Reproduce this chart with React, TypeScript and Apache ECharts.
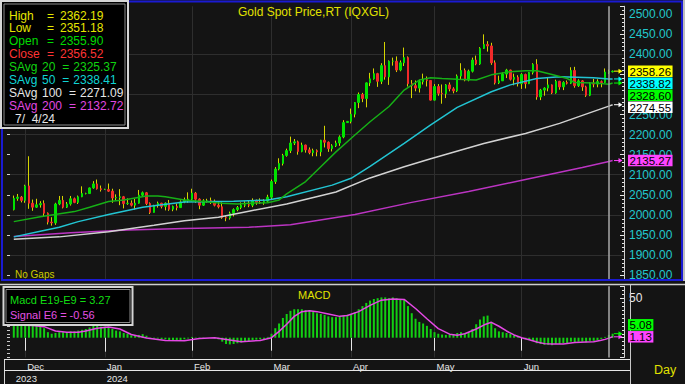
import React, { useEffect, useRef } from 'react';
import * as echarts from 'echarts';

const FONT = '"Liberation Sans", Arial, Helvetica, sans-serif';

// ---------- categories (trading days, Nov 28 2023 .. Jul 5 2024) ----------
function weekdays(from: string, to: string): string[] {
  const out: string[] = [];
  const d = new Date(from + 'T00:00:00Z');
  const end = new Date(to + 'T00:00:00Z');
  while (d <= end) {
    const wd = d.getUTCDay();
    if (wd !== 0 && wd !== 6) out.push(d.toISOString().slice(0, 10));
    d.setUTCDate(d.getUTCDate() + 1);
  }
  return out;
}
const dates = weekdays('2023-11-28', '2024-07-05');

// ---------- tick labels ----------
const monthStarts = ['2023-12-01', '2024-01-01', '2024-02-01', '2024-03-01', '2024-04-01', '2024-05-01', '2024-06-03'];
const monthLabels = ['Dec', 'Jan', 'Feb', 'Mar', 'Apr', 'May', 'Jun'];
const yearStarts = ['2023-11-28', '2024-01-01'];
const yearLabels = ['2023', '2024'];
const priceGridValues = [1900, 2000, 2100, 2200, 2300, 2400];
const cursorDate = '2024-07-04';

// ---------- price bars: [open, high, low, close] ----------
const priceBars: number[][] = [
  // Nov
  [2013, 2048, 2011, 2041], [2041, 2052, 2035, 2044], [2044, 2047, 2031, 2036],
  // Dec
  [2036, 2075, 2030, 2072], [2072, 2146, 2015, 2029], [2029, 2038, 2010, 2019], [2019, 2040, 2017, 2025], [2025, 2034, 2018, 2028],
  [2028, 2036, 1995, 2004], [2004, 2006, 1976, 1982], [1982, 1994, 1973, 1980], [1980, 2030, 1975, 2027], [2027, 2047, 2024, 2036],
  [2036, 2047, 2016, 2019], [2019, 2032, 2017, 2027], [2027, 2047, 2023, 2040], [2040, 2043, 2029, 2031], [2031, 2048, 2027, 2045],
  [2045, 2071, 2044, 2053], [2053, 2055, 2051, 2053], [2053, 2068, 2052, 2067], [2067, 2084, 2065, 2077], [2077, 2088, 2063, 2065],
  [2065, 2073, 2058, 2063],
  // Jan
  [2063, 2065, 2062, 2063], [2063, 2078, 2057, 2059], [2059, 2065, 2030, 2042], [2042, 2051, 2036, 2043], [2043, 2064, 2024, 2045],
  [2045, 2047, 2016, 2028], [2028, 2041, 2025, 2029], [2029, 2036, 2021, 2024], [2024, 2040, 2013, 2029], [2029, 2062, 2028, 2049],
  [2049, 2058, 2046, 2055], [2055, 2057, 2024, 2028], [2028, 2031, 2002, 2006], [2006, 2025, 2006, 2023], [2023, 2033, 2018, 2029],
  [2029, 2030, 2016, 2021], [2021, 2031, 2011, 2029], [2029, 2037, 2010, 2014], [2014, 2023, 2009, 2021], [2021, 2028, 2011, 2018],
  [2018, 2036, 2017, 2032], [2032, 2043, 2029, 2037], [2037, 2056, 2030, 2039],
  // Feb
  [2039, 2065, 2033, 2054], [2054, 2057, 2030, 2039], [2039, 2041, 2014, 2024], [2024, 2039, 2022, 2035], [2035, 2040, 2030, 2035],
  [2035, 2043, 2027, 2034], [2034, 2038, 2021, 2024], [2024, 2032, 2016, 2020], [2020, 2031, 1990, 1993], [1993, 1997, 1984, 1992],
  [1992, 2008, 1988, 2004], [2004, 2016, 1996, 2013], [2013, 2022, 2009, 2018], [2018, 2031, 2014, 2024], [2024, 2034, 2019, 2025],
  [2025, 2035, 2019, 2024], [2024, 2041, 2019, 2035], [2035, 2038, 2025, 2031], [2031, 2041, 2027, 2030], [2030, 2039, 2025, 2034],
  [2034, 2050, 2031, 2044],
  // Mar
  [2044, 2088, 2039, 2083], [2083, 2119, 2077, 2114], [2114, 2141, 2111, 2128], [2128, 2152, 2123, 2148], [2148, 2165, 2145, 2160],
  [2160, 2195, 2154, 2179], [2179, 2189, 2174, 2182], [2182, 2185, 2150, 2158], [2158, 2180, 2156, 2174], [2174, 2175, 2155, 2162],
  [2162, 2168, 2151, 2155], [2155, 2165, 2146, 2160], [2160, 2163, 2146, 2157], [2157, 2187, 2146, 2186], [2186, 2222, 2168, 2181],
  [2181, 2183, 2157, 2165], [2165, 2176, 2158, 2172], [2172, 2185, 2169, 2179], [2179, 2198, 2172, 2194], [2194, 2236, 2191, 2230],
  [2230, 2234, 2229, 2233],
  // Apr
  [2233, 2265, 2228, 2251], [2251, 2281, 2243, 2280], [2280, 2305, 2266, 2300], [2300, 2304, 2281, 2290], [2290, 2330, 2268, 2329],
  [2329, 2354, 2321, 2339], [2339, 2365, 2337, 2352], [2352, 2354, 2319, 2333], [2333, 2378, 2326, 2372], [2372, 2431, 2337, 2344],
  [2344, 2385, 2324, 2383], [2383, 2392, 2372, 2383], [2383, 2395, 2356, 2361], [2361, 2385, 2358, 2379], [2379, 2417, 2371, 2392],
  [2392, 2395, 2320, 2327], [2327, 2336, 2291, 2322], [2322, 2335, 2308, 2316], [2316, 2337, 2305, 2332], [2332, 2352, 2325, 2337],
  [2337, 2345, 2320, 2335], [2335, 2336, 2285, 2286],
  // May
  [2286, 2326, 2285, 2320], [2320, 2326, 2297, 2303], [2303, 2325, 2277, 2302], [2302, 2326, 2291, 2324], [2324, 2330, 2308, 2314],
  [2314, 2318, 2303, 2309], [2309, 2350, 2306, 2346], [2346, 2378, 2337, 2360], [2360, 2365, 2333, 2336], [2336, 2362, 2333, 2358],
  [2358, 2392, 2355, 2386], [2386, 2397, 2373, 2376], [2376, 2418, 2374, 2415], [2415, 2450, 2414, 2425], [2425, 2433, 2407, 2421],
  [2421, 2429, 2374, 2379], [2379, 2385, 2325, 2329], [2329, 2347, 2326, 2334], [2334, 2355, 2334, 2351], [2351, 2364, 2341, 2361],
  [2361, 2362, 2335, 2338], [2338, 2352, 2323, 2343], [2343, 2348, 2320, 2327],
  // Jun
  [2327, 2353, 2314, 2350], [2350, 2352, 2315, 2327], [2327, 2356, 2326, 2355], [2355, 2378, 2350, 2375], [2375, 2388, 2287, 2294],
  [2294, 2314, 2286, 2311], [2311, 2318, 2297, 2316], [2316, 2342, 2308, 2324], [2324, 2325, 2301, 2304], [2304, 2337, 2302, 2333],
  [2333, 2334, 2312, 2319], [2319, 2333, 2311, 2330], [2330, 2335, 2325, 2328], [2328, 2368, 2326, 2360], [2360, 2369, 2317, 2322],
  [2322, 2338, 2319, 2334], [2334, 2336, 2309, 2319], [2319, 2322, 2294, 2298], [2298, 2331, 2296, 2327], [2327, 2339, 2318, 2326],
  // Jul
  [2326, 2338, 2318, 2332], [2332, 2335, 2318, 2330], [2330, 2365, 2329, 2356], [2355.90, 2362.19, 2351.18, 2356.52], [2356.52, 2359.8, 2355.2, 2358.26],
];

// ---------- moving averages: [bar index, value] ----------
const sma20Pts = [[0, 1983], [7, 1995], [16, 2008], [20, 2019], [25, 2033], [29, 2037], [35, 2047], [38, 2047], [40, 2045], [45, 2037],
  [49, 2034], [55, 2029], [59, 2027], [62, 2029], [67, 2030], [70, 2037], [72, 2052], [77, 2083], [81, 2120], [85, 2157], [90, 2199],
  [94, 2232], [99, 2270], [103, 2311], [107, 2336], [110, 2342], [113, 2340], [117, 2338], [122, 2336], [126, 2349], [131, 2357],
  [135, 2359], [138, 2359], [142, 2350], [146, 2340], [148, 2330], [153, 2329], [157, 2325.37], [158, 2328.60]];
const sma50Pts = [[0, 1945], [7, 1959], [12, 1969], [17, 1983], [25, 2001], [34, 2019], [38, 2024], [45, 2032], [58, 2034], [67, 2037],
  [72, 2045], [84, 2074], [89, 2091], [94, 2121], [103, 2178], [110, 2224], [117, 2268], [126, 2307], [131, 2324], [138, 2340],
  [144, 2344], [153, 2342], [157, 2338.41], [158, 2338.82]];
const sma100Pts = [[0, 1939], [12, 1945], [25, 1958], [37, 1974], [45, 1985], [54, 1994], [62, 2009], [72, 2027], [85, 2057], [94, 2092],
  [103, 2120], [110, 2140], [124, 2178], [135, 2203], [144, 2228], [157, 2271.09], [158, 2274.55]];
const sma200Pts = [[0, 1946], [15, 1955], [30, 1962], [45, 1966], [62, 1969], [73, 1975], [90, 2001], [105, 2031], [120, 2058],
  [135, 2088], [150, 2118], [157, 2132.72], [158, 2135.27]];

// ---------- MACD (E19-E9) per bar ----------
const macdValues = [
  20, 21, 21, 23, 21, 19, 17, 15, 12,
  7, 5, 6, 7, 7, 7, 8, 8, 9, 10,
  11, 13, 15, 15, 14, 14, 13, 11, 9, 8,
  6, 5, 3, 2.5, 3.5, 4.5, 2.5, -0.5, -1, -1,
  -2, -2, -3.5, -3.5, -4, -3, -2, -1, 1, 0.5,
  -1, -0.5, 0, 0, -1, -2, -5, -8, -8.5, -8,
  -7, -6, -5, -4.5, -3, -2.5, -2, -1.5, 1, 5,
  12, 18, 25, 30, 34, 36, 36, 36, 35, 34,
  33, 31, 30, 29, 27, 26, 26, 27, 28, 29,
  30, 32, 36, 40, 44, 47, 49, 50, 51, 51,
  50, 51, 50, 49, 48, 40, 31, 24, 20, 18,
  15, 11, 7, 5, 4, 3.5, 4, 4, 6, 7,
  6, 7, 11, 17, 23, 27, 28, 20, 12, 8,
  7, 6, 5, 3, 1, 0, -2, -3, -4, -7,
  -8, -9, -9, -9.5, -8, -8, -7, -7, -5, -6,
  -5, -5, -6, -4, -4, -3, -1.5, 1, 3.27, 5.08,
];
// Signal (E6): [bar index, value]
const signalPts = [[0, 16], [5, 15.5], [8, 14], [11, 8.5], [14, 7], [17, 7], [19, 8.5], [22, 12], [25, 13.5], [28, 11], [31, 4],
  [35, -0.5], [40, -3.5], [45, -4], [49, -1], [53, 0], [57, -3], [60, -5], [65, -3.5], [68, 0], [70, 8], [72, 17], [74, 27],
  [76, 33], [78, 34], [80, 33], [83, 30], [86, 27], [88, 28], [91, 33], [94, 41], [97, 47.5], [100, 49], [103, 48.5], [106, 37],
  [109, 24], [112, 11.5], [115, 4.5], [117, 3], [119, 5], [122, 11], [124, 16], [126, 19.5], [128, 14.5], [130, 8.5], [132, 3.5],
  [134, 0], [136, -2.5], [138, -5.5], [140, -7.5], [142, -8], [145, -8], [148, -6], [151, -5.5], [153, -5.2], [155, -3.3],
  [156, -2.1], [157, -0.56], [158, 1.13]];

// ---------- helpers ----------
const categories = ['pad-0', ...dates, 'pad-1', 'pad-2', 'pad-3'];
const lastIdx = dates.length - 1;
const cursorIdx = dates.indexOf(cursorDate);
const ptAt = (pts: number[][], i: number) => (pts.find((p) => p[0] === i) || [i, NaN])[1];

const C = {
  bg: '#141414', grid: '#2e2e2e', up: '#00e200', down: '#f22a2a', wick: '#d4d400',
  s20: '#16b016', s50: '#22c4d2', s100: '#d2d2d2', s200: '#bb34c2',
  macd: '#12d012', signal: '#e448e4', axisText: '#22c8cc', yellow: '#e2e200',
};
const MARK_STEP = 12;
const MARK_H = 11.5;

const priceLabelFormatter = (hidden: number[]) => (v: number) =>
  v % 50 === 0 && hidden.indexOf(v) < 0 ? v.toFixed(2) : '';

function buildOption(): any {
  const isMonth = (_i: number, v: string) => monthStarts.indexOf(v) >= 0;
  const lineSeries = (name: string, pts: number[][], color: string) => ({
    type: 'line', name, xAxisIndex: 0, yAxisIndex: 0, silent: true, z: 3,
    data: pts.map(([i, v]) => [dates[i], v]),
    symbol: 'none', lineStyle: { color, width: 1.5 }, itemStyle: { color },
  });
  const cursorLine = {
    silent: true, symbol: ['none', 'none'], label: { show: false },
    lineStyle: { color: '#a9a9a9', width: 1.5, type: 'solid' },
    data: [{ xAxis: cursorDate }],
  };
  const mainY = { gridIndex: 0, min: 1840, max: 2520 };
  const macdY = { gridIndex: 1, min: -25, max: 65 };
  return {
    animation: false,
    backgroundColor: C.bg,
    grid: [
      { left: 10, width: 614, top: 6.28, height: 272.7, outerBoundsMode: 'none' },
      { left: 10, width: 614, top: 286.35, height: 71.1, outerBoundsMode: 'none' },
    ],
    xAxis: [
      {
        type: 'category', gridIndex: 0, data: categories, boundaryGap: false,
        axisLine: { show: false }, axisTick: { show: false }, axisLabel: { show: false },
        splitLine: { show: true, interval: isMonth, lineStyle: { color: C.grid, width: 1 } },
      },
      {
        type: 'category', gridIndex: 1, data: categories, boundaryGap: false, position: 'bottom',
        axisLine: { show: false },
        axisTick: { show: true, interval: isMonth, length: 13, inside: false, lineStyle: { color: '#e6e6e6' } },
        axisLabel: {
          show: true, interval: isMonth, color: '#e6e6e6', fontSize: 9.5, fontFamily: FONT, align: 'left',
          margin: 4, padding: [0, 0, 0, 2],
          formatter: (v: string) => { const k = monthStarts.indexOf(v); return k >= 0 ? monthLabels[k] : ''; },
        },
        splitLine: { show: true, interval: isMonth, lineStyle: { color: C.grid, width: 1 } },
      },
      {
        type: 'category', gridIndex: 1, data: categories, boundaryGap: false, position: 'bottom', offset: 13,
        axisLine: { show: false },
        axisTick: { show: true, interval: (_i: number, v: string) => v === yearStarts[1], length: 14, lineStyle: { color: '#e6e6e6' } },
        axisLabel: {
          show: true, interval: (_i: number, v: string) => yearStarts.indexOf(v) >= 0, color: '#e6e6e6',
          fontSize: 9.5, fontFamily: FONT, align: 'left', margin: 3, padding: [0, 0, 0, 2],
          formatter: (v: string) => { const k = yearStarts.indexOf(v); return k >= 0 ? yearLabels[k] : ''; },
        },
        splitLine: { show: false },
      },
    ],
    yAxis: [
      {
        type: 'value', ...mainY, position: 'right', splitNumber: 14, minInterval: 50, maxInterval: 50,
        axisLine: { show: true, lineStyle: { color: '#d0d0d0' } },
        axisTick: { show: true, inside: true, length: 4, lineStyle: { color: '#e8e8e8' } },
        axisLabel: { color: C.axisText, fontSize: 12, fontFamily: FONT, margin: 5, formatter: priceLabelFormatter([]) },
        splitLine: { show: false },
      },
      {
        type: 'value', ...mainY, position: 'right', splitNumber: 68, minInterval: 10, maxInterval: 10,
        axisLine: { show: false }, axisLabel: { show: false }, splitLine: { show: false },
        axisTick: { show: true, inside: true, length: 2, lineStyle: { color: '#e8e8e8' } },
      },
      {
        type: 'value', ...mainY, position: 'left', splitNumber: 14, minInterval: 50, maxInterval: 50,
        axisLine: { show: false }, axisLabel: { show: false }, splitLine: { show: false },
        axisTick: { show: true, inside: false, length: 3, lineStyle: { color: '#d0d0d0' } },
      },
      {
        type: 'value', ...macdY, position: 'right', splitNumber: 2, minInterval: 50, maxInterval: 50,
        axisLine: { show: true, lineStyle: { color: '#d0d0d0' } },
        axisTick: { show: true, inside: true, length: 4, lineStyle: { color: '#e8e8e8' } },
        axisLabel: {
          color: '#e8e8e8', fontSize: 12, fontFamily: FONT, margin: 5,
          formatter: (v: number) => (v === 50 ? '50' : ''),
        },
        splitLine: { show: false },
      },
      {
        type: 'value', ...macdY, position: 'right', splitNumber: 18, minInterval: 5, maxInterval: 5,
        axisLine: { show: false }, axisLabel: { show: false }, splitLine: { show: false },
        axisTick: { show: true, inside: true, length: 2, lineStyle: { color: '#e8e8e8' } },
      },
      {
        type: 'value', ...macdY, position: 'left', splitNumber: 18, minInterval: 5, maxInterval: 5,
        axisLine: { show: false }, axisLabel: { show: false }, splitLine: { show: false },
        axisTick: { show: true, inside: false, length: 3, lineStyle: { color: '#c8c8c8' } },
      },
    ],
    series: [
      {
        type: 'candlestick', name: 'wick', xAxisIndex: 0, yAxisIndex: 0, silent: true, barWidth: 1,
        encode: { x: 0, y: [1, 2, 3, 4] },
        data: priceBars.map((b, i) => [dates[i], b[0], b[3], b[2], b[1]]),
        itemStyle: { color: C.wick, color0: C.wick, borderColor: C.wick, borderColor0: C.wick, borderWidth: 1 },
        markLine: {
          silent: true, z: 1, symbol: ['none', 'none'], label: { show: false },
          lineStyle: { color: C.grid, width: 1, type: 'solid' },
          data: priceGridValues.map((v) => ({ yAxis: v })),
        },
      },
      {
        type: 'candlestick', name: 'body', xAxisIndex: 0, yAxisIndex: 0, silent: true, barWidth: 2,
        encode: { x: 0, y: [1, 2, 3, 4] },
        data: priceBars.map((b, i) => [dates[i], b[0], b[3], Math.min(b[0], b[3]), Math.max(b[0], b[3])]),
        itemStyle: { color: C.up, color0: C.down, borderColor: C.up, borderColor0: C.down, borderWidth: 1 },
        markLine: cursorLine,
      },
      lineSeries('SAvg 200', sma200Pts, C.s200),
      lineSeries('SAvg 100', sma100Pts, C.s100),
      lineSeries('SAvg 50', sma50Pts, C.s50),
      lineSeries('SAvg 20', sma20Pts, C.s20),
      {
        type: 'bar', name: 'MACD', xAxisIndex: 1, yAxisIndex: 3, silent: true, barWidth: 2,
        data: macdValues.map((v, i) => [dates[i], v]),
        itemStyle: { color: C.macd },
        markLine: cursorLine,
      },
      {
        type: 'line', name: 'Signal', xAxisIndex: 1, yAxisIndex: 3, silent: true, symbol: 'none',
        data: signalPts.map(([i, v]) => [dates[i], v]),
        lineStyle: { color: C.signal, width: 1.5 }, itemStyle: { color: C.signal },
      },
    ],
  };
}

function txt(x: number, y: number, text: string, fill: string, size: number, extra: any = {}) {
  return {
    type: 'text', x, y, z: 120, silent: true,
    style: { text, fill, font: `${size}px ${FONT}`, verticalAlign: 'middle', align: 'left', ...extra },
  };
}
function rect(x: number, y: number, w: number, h: number, style: any, z = 110) {
  return { type: 'rect', z, silent: true, shape: { x, y, width: w, height: h }, style };
}
function line(x1: number, y1: number, x2: number, y2: number, stroke: string, lw = 1, z = 110) {
  return { type: 'line', z, silent: true, shape: { x1, y1, x2, y2 }, style: { stroke, lineWidth: lw } };
}

function stack(ys: number[], h: number): number[] {
  const placed: number[] = [];
  return ys.map((y) => {
    const cands = [y];
    placed.forEach((p) => { cands.push(p - h, p + h); });
    const ok = cands.filter((c) => placed.every((p) => Math.abs(c - p) >= h - 0.01));
    ok.sort((a, b) => Math.abs(a - y) - Math.abs(b - y));
    const r = ok[0];
    placed.push(r);
    return r;
  });
}

function textWidth(s: string, size: number) {
  let w = 0;
  for (const ch of s) w += ch === '.' ? 0.278 : ch === '-' ? 0.333 : 0.556;
  return w * size;
}

const mainMarks = [
  { v: priceBars[lastIdx][3], bg: '#ffff00' },
  { v: ptAt(sma50Pts, lastIdx), bg: '#00ffff' },
  { v: ptAt(sma20Pts, lastIdx), bg: '#00ff00' },
  { v: ptAt(sma100Pts, lastIdx), bg: '#ffffff' },
  { v: ptAt(sma200Pts, lastIdx), bg: '#ff44ff' },
];
const macdMarks = [
  { v: ptAt(signalPts, lastIdx), bg: '#ff44ff' },
  { v: macdValues[lastIdx], bg: '#00ff00' },
];

function placeMarks(chart: any, marks: any[], yAxisIndex: number) {
  const trueY = marks.map((m) => chart.convertToPixel({ yAxisIndex }, m.v) as number);
  const ys = stack(trueY, MARK_STEP);
  return marks.map((m, k) => ({ ...m, y: ys[k], ty: trueY[k] }));
}

function buildGraphics(mainPlaced: any[], macdPlaced: any[]): any[] {
  const els: any[] = [];
  // frames
  els.push(rect(2, 1.5, 680, 278.5, { fill: 'none', stroke: '#1a1ad2', lineWidth: 2 }, 105));
  els.push(rect(683, 0, 2, 281, { fill: '#bdbdbd' }, 105));
  els.push(line(0, 284.5, 685, 284.5, '#cfcfcf', 1.5, 105));
  els.push(line(630.5, 285, 630.5, 384, '#c8c8c8', 1, 105));
  els.push(line(4.5, 359, 4.5, 384, '#d8d8d8', 1, 105));
  els.push(line(4, 359.5, 630, 359.5, '#e6e6e6', 1, 105));
  els.push(line(4, 370.5, 630, 370.5, '#e6e6e6', 1, 105));

  // title etc.
  els.push(txt(238, 12, 'Gold Spot Price,RT (IQXGL)', C.yellow, 12));
  els.push(txt(15, 274.5, 'No Gaps', '#cccc00', 10));
  els.push(txt(298, 295, 'MACD', C.yellow, 11));
  els.push(txt(654, 370, 'Day', C.yellow, 12.5));

  // main legend box
  const bar = priceBars[cursorIdx];
  els.push(rect(1, 1, 127, 127, { fill: '#000000', stroke: '#d6d6d6', lineWidth: 2 }));
  els.push(rect(4, 4, 121, 121, { fill: 'none', stroke: '#8a8a8a', lineWidth: 1 }));
  const rowY = (k: number) => 15.5 + k * 12.9;
  const hloc: [string, number, string][] = [
    ['High', bar[1], '#e6e600'], ['Low', bar[2], '#e6e600'], ['Open', bar[0], '#00dc00'], ['Close', bar[3], '#ff3434'],
  ];
  hloc.forEach(([lab, v, col], k) => {
    els.push(txt(9, rowY(k), lab, col, 12));
    els.push(txt(47, rowY(k), '=', col, 12));
    els.push(txt(60, rowY(k), v.toFixed(2), col, 12));
  });
  const savg: [string, number[][], string][] = [
    ['20', sma20Pts, '#10d410'], ['50', sma50Pts, '#10d4d4'], ['100', sma100Pts, '#e6e6e6'], ['200', sma200Pts, '#e048e0'],
  ];
  savg.forEach(([p, pts, col], j) => {
    const k = j + 4;
    const eqX = 42 + p.length * 6.67 + 7;
    els.push(txt(9, rowY(k), 'SAvg', col, 12));
    els.push(txt(42, rowY(k), p, col, 12));
    els.push(txt(eqX, rowY(k), '=', col, 12));
    els.push(txt(eqX + 11, rowY(k), ptAt(pts, cursorIdx).toFixed(2), col, 12));
  });
  const [yy, mm, dd] = cursorDate.split('-');
  els.push(txt(15, rowY(8), `${Number(mm)}/\u00a0\u00a0${Number(dd)}/${yy.slice(2)}`, '#e6e6e6', 12));

  // MACD legend box
  els.push(rect(3.5, 287, 129, 38, { fill: '#000000', stroke: '#d6d6d6', lineWidth: 2 }));
  els.push(rect(6, 289.5, 124, 33, { fill: 'none', stroke: '#8a8a8a', lineWidth: 1 }));
  els.push(txt(10, 300, `Macd E19-E9 = ${macdValues[cursorIdx].toFixed(2)}`, '#12de12', 11));
  els.push(txt(10, 314.5, `Signal E6 = ${ptAt(signalPts, cursorIdx).toFixed(2)}`, '#e450e4', 11));

  // right-edge value markers
  const FS = 11.5;
  [...mainPlaced, ...macdPlaced].forEach((m) => {
    const label = m.v.toFixed(2);
    const w = textWidth(label, FS) + 3;
    els.push(rect(628, m.y - MARK_H / 2, w, MARK_H, { fill: m.bg }, 115));
    els.push(txt(629.5, m.y + 0.5, label, '#000000', FS));
    els.push(line(614, m.ty, 619, m.ty, m.bg, 1, 116));
    els.push({
      type: 'polygon', z: 116, silent: true,
      shape: { points: [[618.5, m.ty - 2.5], [622.5, m.ty], [618.5, m.ty + 2.5]] },
      style: { fill: m.bg },
    });
  });
  return els;
}

export default function App() {
  const ref = useRef<HTMLDivElement>(null);
  useEffect(() => {
    const el = ref.current;
    if (!el) return;
    const chart = echarts.init(el, null, { renderer: 'svg' });
    chart.setOption(buildOption());
    const mainPlaced = placeMarks(chart, mainMarks, 0);
    const macdPlaced = placeMarks(chart, macdMarks, 3);
    // price labels that sit fully behind a value marker are hidden (as in the source chart)
    const hidden: number[] = [];
    for (let v = 1850; v <= 2500; v += 50) {
      const y = chart.convertToPixel({ yAxisIndex: 0 }, v) as number;
      if (mainPlaced.some((m: any) => Math.abs(m.y - y) < 5)) hidden.push(v);
    }
    chart.setOption({
      yAxis: [{ axisLabel: { formatter: priceLabelFormatter(hidden) } }],
      graphic: buildGraphics(mainPlaced, macdPlaced),
    });
    return () => chart.dispose();
  }, []);
  return (
    <div
      ref={ref}
      style={{ position: 'fixed', left: 0, top: 0, width: 685, height: 384, background: '#141414' }}
    />
  );
}
